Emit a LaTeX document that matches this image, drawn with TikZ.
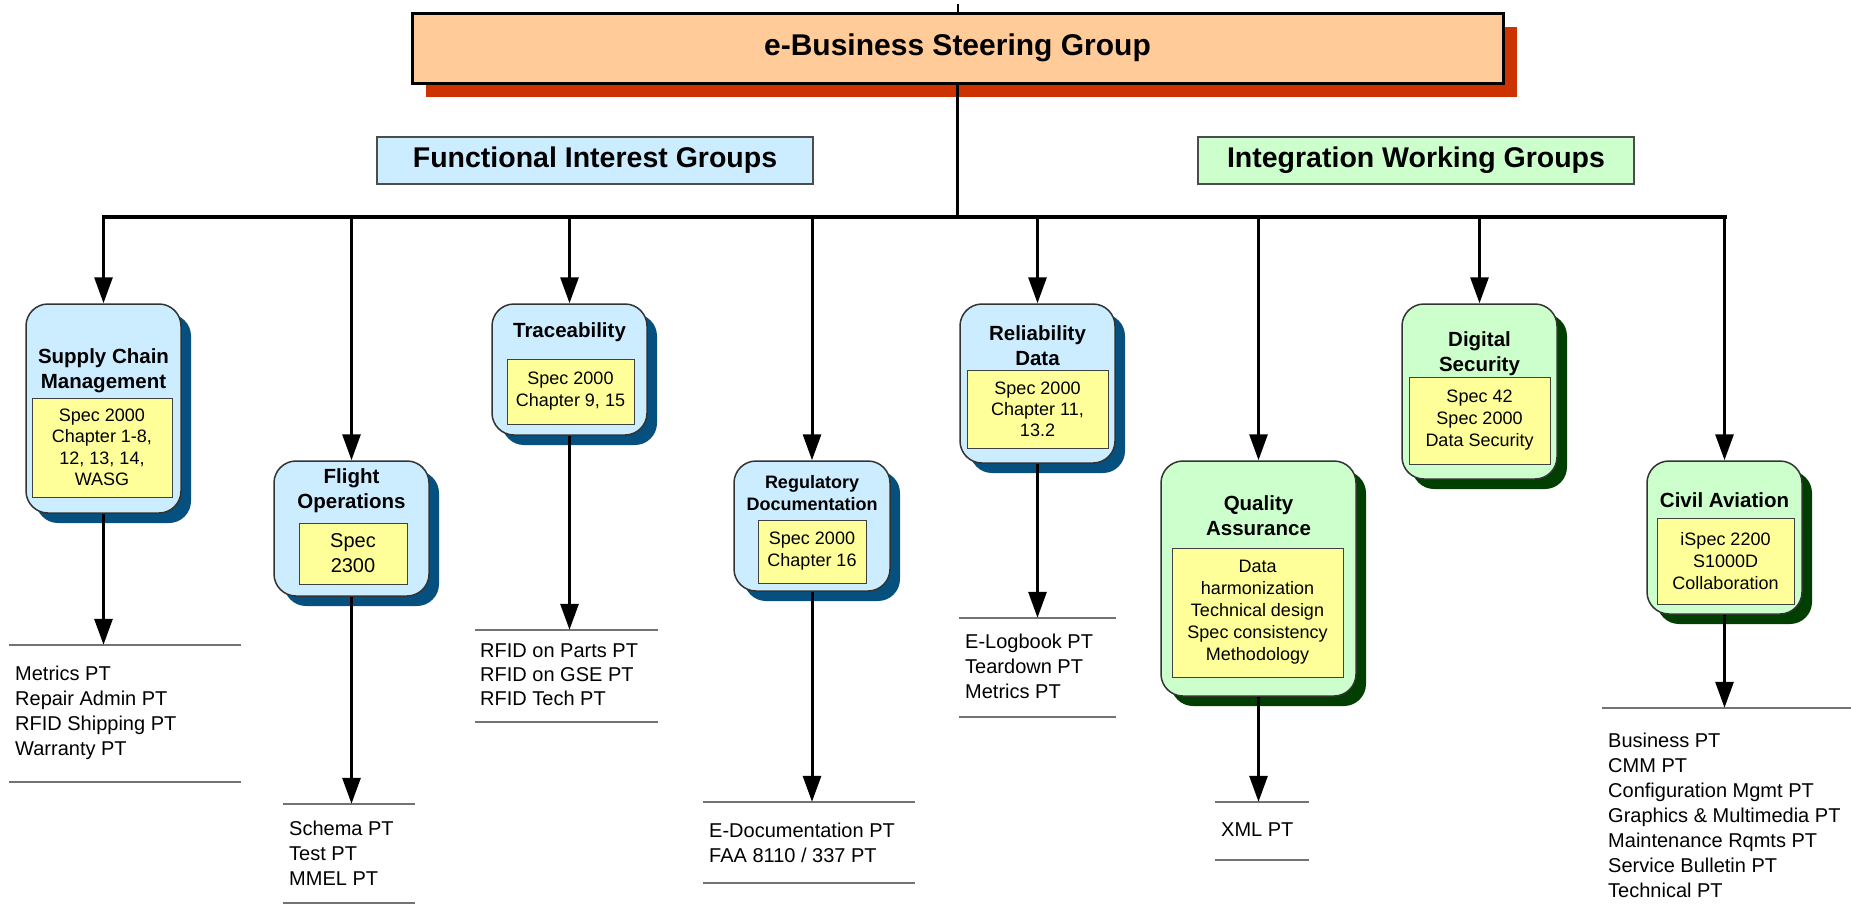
\documentclass[tikz,border=0pt]{standalone}
\usepackage{fontspec}
\setmainfont{Liberation Sans}
\usetikzlibrary{arrows.meta,shadows}
\definecolor{bluef}{HTML}{CCECFF}
\definecolor{bluesh}{HTML}{05507F}
\definecolor{greenf}{HTML}{CCFFCC}
\definecolor{greensh}{HTML}{003F00}
\definecolor{yel}{HTML}{FFFF99}
\definecolor{peach}{HTML}{FFCC99}
\definecolor{rust}{HTML}{CC3300}
\newcommand\fsz[2]{\fontsize{#1pt}{#2pt}\selectfont}
\tikzset{
  grpbase/.style={rounded corners=22pt, draw=black!80, line width=1.5pt, inner sep=0pt, minimum width=155pt},
  bluegrp/.style={grpbase, fill=bluef, drop shadow={shadow xshift=10pt, shadow yshift=-10pt, fill=bluesh, opacity=1}},
  greengrp/.style={grpbase, fill=greenf, drop shadow={shadow xshift=10pt, shadow yshift=-10pt, fill=greensh, opacity=1}},
  specbox/.style={fill=yel, draw=black!75, line width=1pt, inner sep=0pt, align=center},
  ttl/.style={font=\bfseries\fsz{20.5}{25}, align=center, inner sep=0pt},
  lst/.style={font=\fsz{20}{25}, align=left, inner sep=0pt, anchor=west},
  lframe/.style={inner sep=0pt},
  lrule/.style={draw=black!55, line width=2pt},
  conn/.style={line width=3pt},
  arr/.style={conn, -{Triangle[width=18pt,length=26pt]}},
  hdr/.style={draw=black!70, line width=1.5pt, inner sep=0pt, font=\bfseries\fsz{28.5}{34},
     minimum width=436pt, minimum height=47pt}
}
\begin{document}
\begin{tikzpicture}[x=1pt,y=-1pt]
\useasboundingbox (0,0) rectangle (1851,921);

% top
\node[draw=black, line width=3pt, fill=peach, minimum width=1091pt, minimum height=70pt, inner sep=0pt,
  font=\bfseries\fsz{30}{36},
  drop shadow={shadow xshift=14pt, shadow yshift=-14pt, fill=rust, opacity=1}] (top) at (957.5,48) {e-Business Steering Group};
\coordinate (tk) at (957.5,4);
\draw[line width=2pt] (top.north) -- (tk);

\node[hdr, fill=bluef] (fig) at (595,160.5) {Functional Interest Groups};
\node[hdr, fill=greenf] (iwg) at (1416,160.5) {Integration Working Groups};

% groups
\node[bluegrp, minimum height=209pt] (scm) at (103.5,408.5) {};
\node[bluegrp, minimum height=135pt] (flt) at (351.5,528.5) {};
\node[bluegrp, minimum height=131pt] (trc) at (569.5,369.5) {};
\node[bluegrp, minimum width=156pt, minimum height=130pt] (reg) at (812,526) {};
\node[bluegrp, minimum height=159pt] (rel) at (1037.5,383.5) {};
\node[greengrp, minimum width=195pt, minimum height=235pt] (qa) at (1258.5,578.5) {};
\node[greengrp, minimum height=175pt] (ds) at (1479.5,391.5) {};
\node[greengrp, minimum height=153pt] (civ) at (1724.5,537.5) {};

% titles
\node[ttl] (scmT) at (103.5,370.5) {Supply Chain\\Management};
\node[ttl] (fltT) at (351.5,490.5) {Flight\\Operations};
\node[ttl] (trcT) at (569.5,332) {Traceability};
\node[ttl, font=\bfseries\fsz{18}{22}] (regT) at (812,493) {Regulatory\\Documentation};
\node[ttl] (relT) at (1037.5,345.5) {Reliability\\Data};
\node[ttl] (qaT) at (1258.5,515.5) {Quality\\Assurance};
\node[ttl] (dsT) at (1479.5,353.5) {Digital\\Security};
\node[ttl] (civT) at (1724.5,500) {Civil Aviation};

% spec boxes
\node[specbox, font=\fsz{18}{21.5}, minimum width=140pt, minimum height=99pt] (scmS) at (102,447.5) {Spec 2000\\Chapter 1-8,\\12, 13, 14,\\WASG};
\node[specbox, font=\fsz{20}{25}, minimum width=108pt, minimum height=61pt] (fltS) at (353,553.5) {Spec\\2300};
\node[specbox, font=\fsz{18}{22}, minimum width=127pt, minimum height=65pt] (trcS) at (570.5,391.5) {Spec 2000\\Chapter 9, 15};
\node[specbox, font=\fsz{18}{22}, minimum width=108pt, minimum height=63pt] (regS) at (812,551.5) {Spec 2000\\Chapter 16};
\node[specbox, font=\fsz{18}{21}, minimum width=141pt, minimum height=78pt] (relS) at (1037.5,409) {Spec 2000\\Chapter 11,\\13.2};
\node[specbox, font=\fsz{18}{22}, minimum width=171pt, minimum height=129pt] (qaS) at (1257.5,612.5) {Data\\harmonization\\Technical design\\Spec consistency\\Methodology};
\node[specbox, font=\fsz{18}{22}, minimum width=141pt, minimum height=87pt] (dsS) at (1479.5,420.5) {Spec 42\\Spec 2000\\Data Security};
\node[specbox, font=\fsz{18}{22}, minimum width=137pt, minimum height=86pt] (civS) at (1725.5,561) {iSpec 2200\\S1000D\\Collaboration};

% list frames
\node[lframe, minimum width=232pt, minimum height=137pt] (L1) at (125,713.5) {};
\node[lframe, minimum width=132pt, minimum height=99pt] (L2) at (349,853.5) {};
\node[lframe, minimum width=183pt, minimum height=92pt] (L3) at (566.5,676) {};
\node[lframe, minimum width=212pt, minimum height=81pt] (L4) at (809,842.5) {};
\node[lframe, minimum width=157pt, minimum height=99pt] (L5) at (1037.5,667.5) {};
\node[lframe, minimum width=94pt, minimum height=58pt] (L6) at (1262,831) {};
\node[lframe, minimum width=249pt, minimum height=194pt] (L7) at (1726.5,805) {};
\foreach \l in {L1,L2,L3,L4,L5,L6}{
  \draw[lrule] (\l.north west) -- (\l.north east);
  \draw[lrule] (\l.south west) -- (\l.south east);
}
\draw[lrule] (L7.north west) -- (L7.north east);

% list texts
\node[lst] (L1t) at (15,712.5) {Metrics PT\\Repair Admin PT\\RFID Shipping PT\\Warranty PT};
\node[lst] (L2t) at (289,853) {Schema PT\\Test PT\\MMEL PT};
\node[lst, font=\fsz{20}{24}] (L3t) at (480,675) {RFID on Parts PT\\RFID on GSE PT\\RFID Tech PT};
\node[lst] (L4t) at (709,842.5) {E-Documentation PT\\FAA 8110 / 337 PT};
\node[lst] (L5t) at (965,666.5) {E-Logbook PT\\Teardown PT\\Metrics PT};
\node[lst] (L6t) at (1221,830) {XML PT};
\node[lst] (L7t) at (1608,815) {Business PT\\CMM PT\\Configuration Mgmt PT\\Graphics \& Multimedia PT\\Maintenance Rqmts PT\\Service Bulletin PT\\Technical PT};

% connectors
\coordinate (bus) at (957.5,217);
\draw[conn] (top.south) -- (top.south |- bus);
\draw[conn, line width=4pt, line cap=rect] (scm.north |- bus) -- (civ.north |- bus);
\foreach \g in {scm,flt,trc,reg,rel,qa,ds,civ}{
  \draw[arr] (\g.north |- bus) -- (\g.north);
}
\draw[arr] (scm.south) -- (scm.south |- L1.north);
\draw[arr] (flt.south) -- (flt.south |- L2.north);
\draw[arr] (trc.south) -- (trc.south |- L3.north);
\draw[arr] (reg.south) -- (reg.south |- L4.north);
\draw[arr] (rel.south) -- (rel.south |- L5.north);
\draw[arr] (qa.south) -- (qa.south |- L6.north);
\draw[arr] (civ.south) -- (civ.south |- L7.north);
\end{tikzpicture}
\end{document}
